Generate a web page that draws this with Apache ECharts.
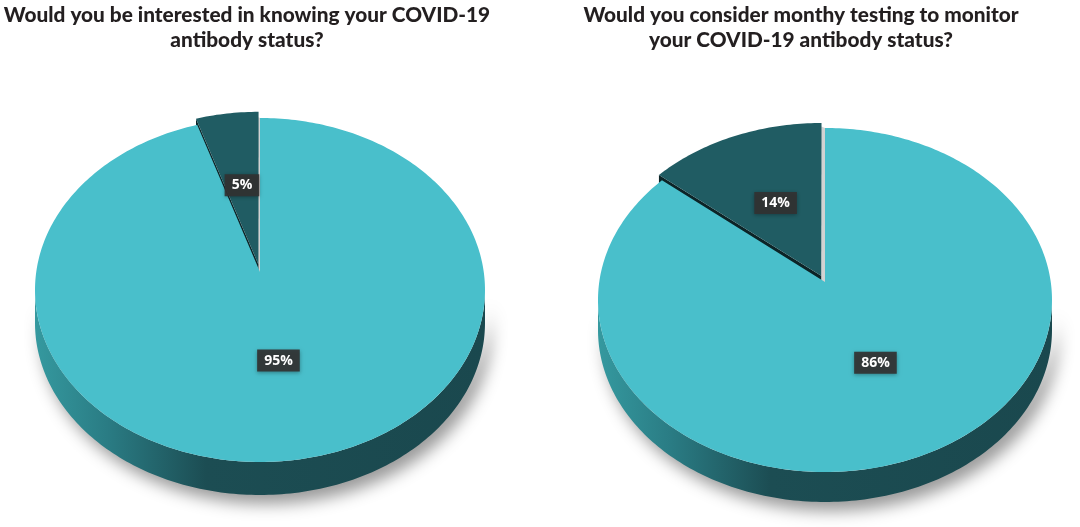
<!DOCTYPE html>
<html><head><meta charset="utf-8">
<script src="https://cdn.jsdelivr.net/npm/echarts@6/dist/echarts.min.js"></script>
<style>html,body{margin:0;padding:0;background:#fff}#c{width:1080px;height:527px}</style>
</head><body><div id="c"></div>
<script>
// ---- data ----
const categories = ['Yes', 'No'];
const interestValues = [95, 5];   // "Would you be interested in knowing your COVID-19 antibody status?"
const monthlyValues = [86, 14];   // "Would you consider monthy testing to monitor your COVID-19 antibody status?"
const chartTitles = [
  'Would you be interested in knowing your COVID-19\nantibody status?',
  'Would you consider monthy testing to monitor\nyour COVID-19 antibody status?'
];

// ---- layout / style ----
const layouts = [
  {cx: 260, cy: 290, rx: 225, ry: 172, depth: 33, k: -0.105, explode: 0.045, explodeIndex: 1, titleX: 247},
  {cx: 825, cy: 300, rx: 227, ry: 172, depth: 30, k: -0.105, explode: 0.04, explodeIndex: 1, titleX: 801}
];
const topColors = ['#49bfcb', '#205c63'];
const cutColors = ['#d2d2d2', '#0c2427'];

function makeRender(values, L) {
  const total = values.reduce((s, v) => s + v, 0);
  const c = Math.sqrt(1 - L.k * L.k);
  const rad = d => d * Math.PI / 180;
  function proj(a, b) {
    const den = 1 + L.k * b;
    return [L.cx + L.rx * a * c / den, L.cy + L.ry * (b + L.k) / den];
  }
  const thMin = Math.acos(L.k) * 180 / Math.PI;
  const thMax = 360 - thMin;
  return function (params, api) {
    const i = params.dataIndex;
    let start = 0;
    for (let j = 0; j < i; j++) start += values[j] / total * 360;
    const end = start + values[i] / total * 360;
    const mid = (start + end) / 2;
    const ex = i === L.explodeIndex ? L.explode : 0;
    const oa = ex * Math.sin(rad(mid)), ob = -ex * Math.cos(rad(mid));
    const P = (r, th) => proj(oa + r * Math.sin(rad(th)), ob - r * Math.cos(rad(th)));
    const arc = (a0, a1) => {
      const pts = [];
      const n = Math.max(2, Math.ceil(Math.abs(a1 - a0)));
      for (let s = 0; s <= n; s++) pts.push(P(1, a0 + (a1 - a0) * s / n));
      return pts;
    };
    const apex = P(0, 0);
    const d = L.depth;
    const children = [];
    // side wall (front part only)
    const lo = Math.max(start, thMin), hi = Math.min(end, thMax);
    if (hi > lo) {
      const topPts = arc(lo, hi);
      const botPts = topPts.map(p => [p[0], p[1] + d]).reverse();
      children.push({
        type: 'polygon', z2: 1,
        shape: {points: topPts.concat(botPts)},
        style: {
          fill: new echarts.graphic.LinearGradient(0, 0, 1, 0, [
            {offset: 0, color: '#35999f'},
            {offset: 0.16, color: '#2a7c84'},
            {offset: 0.38, color: '#1c4d53'},
            {offset: 1, color: '#1a484e'}
          ]),
          shadowBlur: 16, shadowColor: 'rgba(0,0,0,0.4)', shadowOffsetX: 6, shadowOffsetY: 9
        }
      });
    }
    // cut faces
    const rs = P(1, start);
    if (i === L.explodeIndex) {
      children.push({
        type: 'polygon', z2: 2,
        shape: {points: [apex, rs, [rs[0], rs[1] + d], [apex[0], apex[1] + d]]},
        style: {fill: cutColors[1]}
      });
    } else if (i === 0) {
      children.push({
        type: 'polygon', z2: 2,
        shape: {points: [apex, rs, [rs[0] - 5, rs[1] - 2], [apex[0] - 5, apex[1]]]},
        style: {fill: cutColors[0]}
      });
    }
    // top face
    children.push({
      type: 'polygon', z2: 5,
      shape: {points: [apex].concat(arc(start, end))},
      style: {fill: topColors[i]}
    });
    // label
    const lp = P(0.5, mid);
    children.push({
      type: 'text', z2: 10,
      x: lp[0], y: lp[1],
      style: {
        text: values[i] + '%',
        font: 'bold 14px "Open Sans"',
        fill: '#ffffff',
        align: 'center', verticalAlign: 'middle',
        backgroundColor: 'rgba(50,50,50,0.92)',
        padding: [4, 7, 4, 7],
        shadowBlur: 4, shadowColor: 'rgba(0,0,0,0.35)', shadowOffsetY: 1
      }
    });
    return {type: 'group', children: children};
  };
}

const allValues = [interestValues, monthlyValues];
const chart = echarts.init(document.getElementById('c'), null, {renderer: 'canvas'});
chart.setOption({
  animation: false,
  backgroundColor: '#ffffff',
  graphic: chartTitles.map((t, idx) => ({
    type: 'text', x: layouts[idx].titleX, y: 3,
    style: {
      text: t, font: '900 20.8px Lato', fill: '#231f20',
      align: 'center', verticalAlign: 'top', lineHeight: 25
    }
  })),
  series: allValues.map((vals, idx) => ({
    type: 'custom',
    name: chartTitles[idx],
    coordinateSystem: 'none',
    renderItem: makeRender(vals, layouts[idx]),
    data: vals.map((v, i) => ({name: categories[i], value: v}))
  }))
});
</script></body></html>
